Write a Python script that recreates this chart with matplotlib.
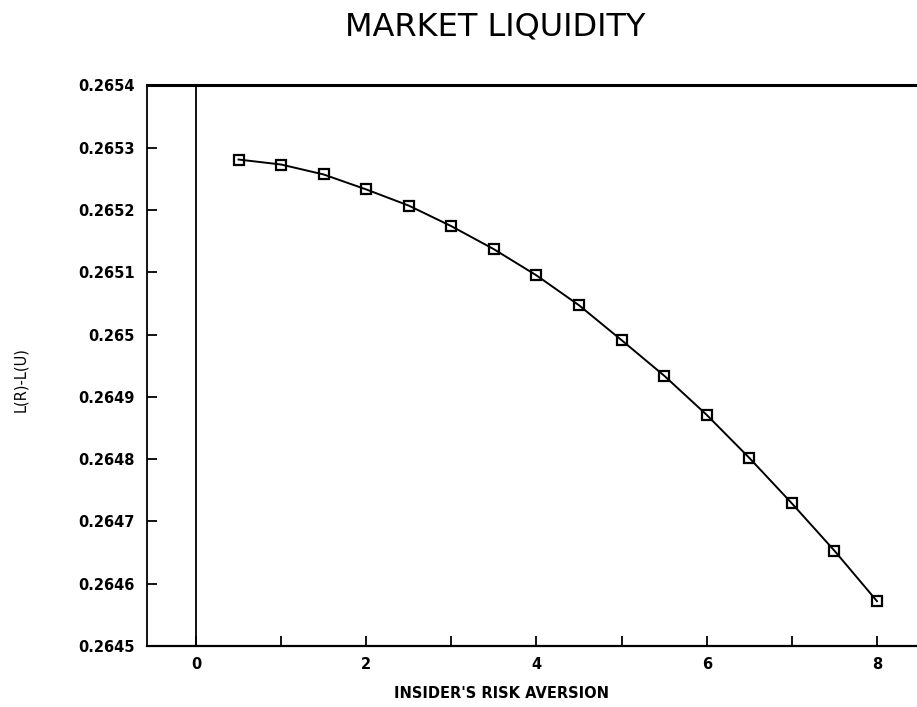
import matplotlib
matplotlib.use("Agg")
import matplotlib.pyplot as plt

# Data
risk_aversion = [0.5, 1.0, 1.5, 2.0, 2.5, 3.0, 3.5, 4.0, 4.5, 5.0, 5.5, 6.0, 6.5, 7.0, 7.5, 8.0]
liquidity_diff = [0.265281, 0.265273, 0.265257, 0.265233, 0.265207, 0.265174, 0.265137, 0.265095,
                  0.265047, 0.264991, 0.264934, 0.264871, 0.264802, 0.264729, 0.264653, 0.264572]
y_ticks = [0.2645, 0.2646, 0.2647, 0.2648, 0.2649, 0.2650, 0.2651, 0.2652, 0.2653, 0.2654]
y_tick_labels = ["0.2645", "0.2646", "0.2647", "0.2648", "0.2649", "0.265",
                 "0.2651", "0.2652", "0.2653", "0.2654"]
x_major = [0, 2, 4, 6, 8]
x_major_labels = ["0", "2", "4", "6", "8"]
x_minor = [1, 3, 5, 7]

fig = plt.figure(figsize=(9.17, 7.07), dpi=100)
ax = fig.add_axes([147 / 917, 1 - 646 / 707, 1 - 147 / 917, (646 - 85.4) / 707])

ax.plot(risk_aversion, liquidity_diff, color="black", lw=1.4, marker="s", ms=7,
        mfc="none", mec="black", mew=1.6, zorder=3)
ax.axvline(0, color="black", lw=1.3)

ax.set_xlim(-0.575, 8.47)
ax.set_ylim(0.2645, 0.2654)

ax.set_yticks(y_ticks, y_tick_labels)
ax.set_xticks(x_major, x_major_labels)
ax.set_xticks(x_minor, minor=True)

tick_font = dict(family="DejaVu Sans", weight="bold", size=10.5)
for lab in ax.get_xticklabels() + ax.get_yticklabels():
    lab.set_fontproperties(matplotlib.font_manager.FontProperties(**tick_font))

ax.tick_params(axis="both", which="both", direction="in", length=7.5, width=1.3,
               color="black")
ax.tick_params(axis="y", pad=9)
ax.tick_params(axis="x", pad=8)

ax.spines["right"].set_visible(False)
ax.spines["top"].set_linewidth(2.2)
ax.spines["left"].set_linewidth(1.3)
ax.spines["bottom"].set_linewidth(1.6)

ax.set_xlabel("INSIDER'S RISK AVERSION", fontsize=10.5, fontweight="bold", va="center")
ax.xaxis.set_label_coords((501 - 147) / 770, (646 - 694) / 560.6)
ax.set_ylabel("L(R)-L(U)", fontsize=10.5, va="center")
ax.yaxis.set_label_coords((21 - 147) / 770, (646 - 380) / 560.6)

fig.text(495 / 917, 1 - 27 / 707, "MARKET LIQUIDITY", ha="center", va="center",
         fontsize=23, family="DejaVu Sans")

fig.savefig("out.png", dpi=100)
